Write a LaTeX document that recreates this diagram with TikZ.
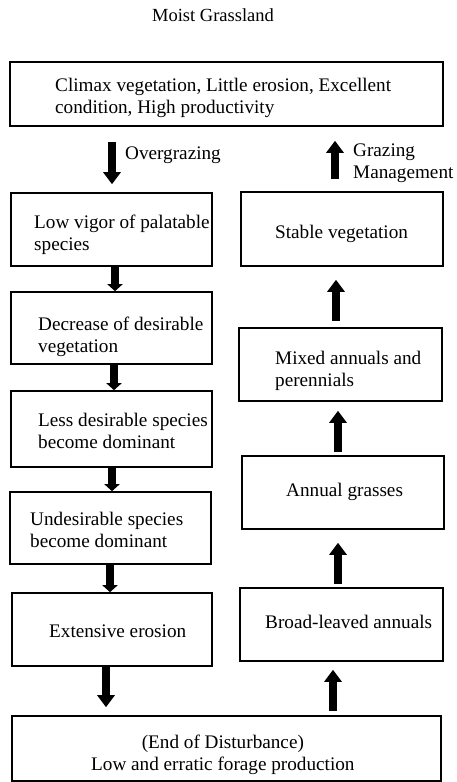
\documentclass[tikz,border=0pt]{standalone}
\usepackage{fontspec}
\setmainfont{Liberation Serif}
\usetikzlibrary{arrows.meta}
\begin{document}
\begin{tikzpicture}[x=1pt,y=-1pt,
  box/.style={draw, line width=1.6pt, rectangle, inner sep=0pt},
  lbl/.style={anchor=base west, inner sep=0pt, align=left,
    font=\fontsize{19.2}{22}\selectfont},
  flow/.style={line width=8pt, -{Triangle[width=17pt,length=12pt]}},
  linkarrow/.style={line width=8pt, -{Triangle[width=15pt,length=7pt]}}]
\useasboundingbox (0,0) rectangle (456,782);

% title
\node[anchor=base, inner sep=0pt, font=\fontsize{18.5}{22}\selectfont] (title) at (213,21) {Moist Grassland};

% boxes
\node[box, minimum width=433pt, minimum height=64pt] (top) at (226.5,94) {};
\node[box, minimum width=201pt, minimum height=73pt] (low) at (111.5,229.5) {};
\node[box, minimum width=201pt, minimum height=72pt] (dec) at (111.5,328) {};
\node[box, minimum width=201pt, minimum height=76pt] (less) at (111.5,429) {};
\node[box, minimum width=201pt, minimum height=72pt] (und) at (110.5,528) {};
\node[box, minimum width=200pt, minimum height=73pt] (ero) at (112,629.5) {};
\node[box, minimum width=429pt, minimum height=65pt] (end) at (226.5,748.5) {};
\node[box, minimum width=202pt, minimum height=74pt] (stab) at (342,229) {};
\node[box, minimum width=203pt, minimum height=73pt] (mix) at (340.5,364.5) {};
\node[box, minimum width=202pt, minimum height=73pt] (ann) at (343,492.5) {};
\node[box, minimum width=203pt, minimum height=73pt] (broad) at (341.5,624.5) {};

% texts (multi-line labels are placed by the baseline of their last line)
\node[lbl] (ttop) at (55,113) {Climax vegetation, Little erosion, Excellent\\condition, High productivity};
\node[lbl] (tover) at (125,159) {Overgrazing};
\node[lbl] (tgraz) at (353,178) {Grazing\\Management};
\node[lbl] (tlow) at (34,250) {Low vigor of palatable\\species};
\node[lbl] (tdec) at (38,352) {Decrease of desirable\\vegetation};
\node[lbl] (tless) at (38,448) {Less desirable species\\become dominant};
\node[lbl] (tund) at (30,547) {Undesirable species\\become dominant};
\node[lbl] (tero) at (49,637) {Extensive erosion};
\node[lbl, align=center] (tend) at (91,770) {(End of Disturbance)\\Low and erratic forage production};
\node[lbl] (tstab) at (275,238) {Stable vegetation};
\node[lbl] (tmix) at (275,386) {Mixed annuals and\\perennials};
\node[lbl] (tann) at (286,496) {Annual grasses};
\node[lbl] (tbroad) at (265,628) {Broad-leaved annuals};

% column positions of the connectors
\coordinate (c1) at (112,0);
\coordinate (c2) at (115,0);
\coordinate (c3) at (114,0);
\coordinate (c4) at (112,0);
\coordinate (c5) at (110,0);
\coordinate (c6) at (106,0);
\coordinate (r1) at (333,0);
\coordinate (r2) at (338,0);
\coordinate (r3) at (338,0);
\coordinate (r4) at (336,0);
\coordinate (r5) at (335,0);

% degradation sequence
\draw[flow, shorten <=15pt, shorten >=8pt] (c1 |- top.south) -- (c1 |- low.north);
\draw[linkarrow] (c2 |- low.south) -- (c2 |- dec.north);
\draw[linkarrow] (c3 |- dec.south) -- (c3 |- less.north);
\draw[linkarrow] (c4 |- less.south) -- (c4 |- und.north);
\draw[linkarrow] (c5 |- und.south) -- (c5 |- ero.north);
\draw[flow, shorten <=0pt, shorten >=8pt] (c6 |- ero.south) -- (c6 |- end.north);

% recovery sequence
\draw[flow, shorten <=4pt, shorten >=8pt] (r1 |- end.north) -- (r1 |- broad.south);
\draw[flow, shorten <=3pt, shorten >=13pt] (r2 |- broad.north) -- (r2 |- ann.south);
\draw[flow, shorten <=3pt, shorten >=9pt] (r3 |- ann.north) -- (r3 |- mix.south);
\draw[flow, shorten <=6pt, shorten >=13pt] (r4 |- mix.north) -- (r4 |- stab.south);
\draw[flow, shorten <=12pt, shorten >=14pt] (r5 |- stab.north) -- (r5 |- top.south);
\end{tikzpicture}
\end{document}
